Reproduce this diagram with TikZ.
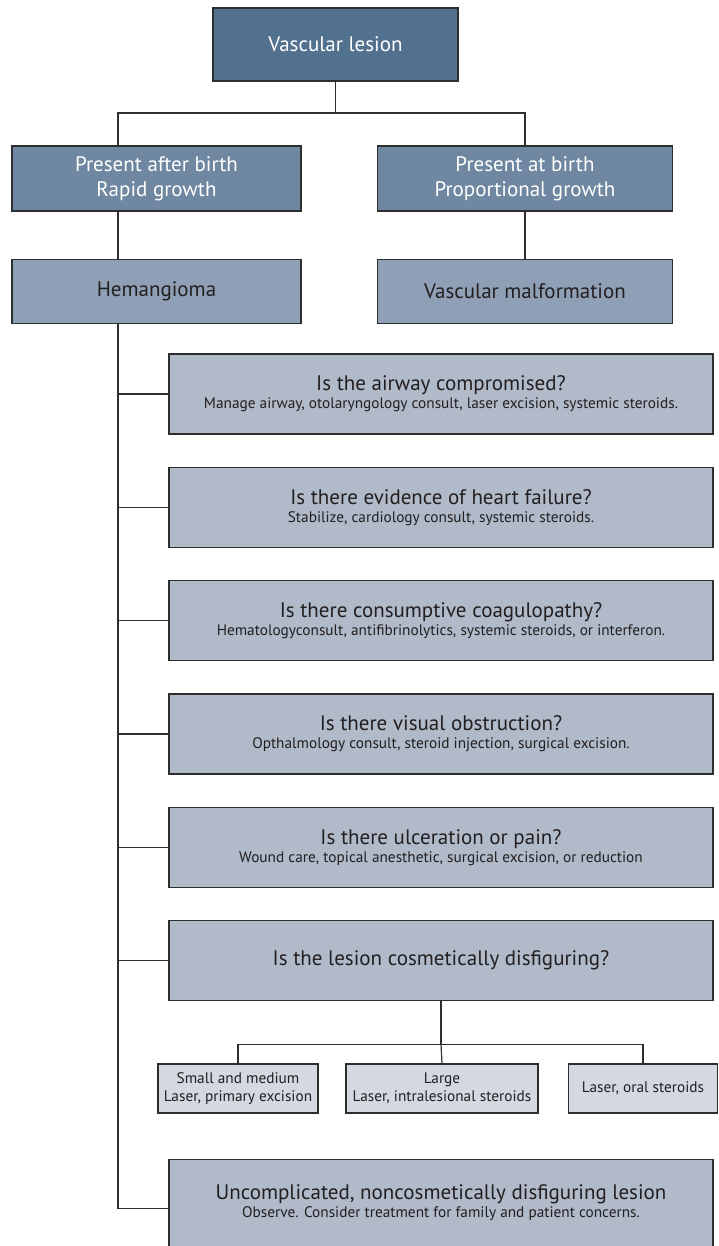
\documentclass[tikz,border=0pt]{standalone}
\usepackage{fontspec}
\setmainfont{PT Sans}
\usepackage{tikz}
\usetikzlibrary{positioning}
\definecolor{tone1}{HTML}{52718F}
\definecolor{tone2}{HTML}{6F87A0}
\definecolor{tone3}{HTML}{8F9FB5}
\definecolor{tone4}{HTML}{B0BAC9}
\definecolor{tone5}{HTML}{D3D8E1}
\definecolor{edge}{HTML}{2E2E2E}
\definecolor{ink}{HTML}{231F20}
\newcommand{\bigtxt}{\fontsize{21}{25}\selectfont}
\newcommand{\smalltxt}{\fontsize{15.3}{18}\selectfont}

\begin{document}
\begin{tikzpicture}[x=1pt,y=-1pt,
  box/.style={draw=edge,line width=1.3pt,inner sep=0pt,align=center,text=ink,font=\smalltxt},
  qbox/.style={box,fill=tone4,minimum width=544pt,minimum height=80pt},
  choice/.style={box,fill=tone5,minimum height=49pt},
  conn/.style={draw=edge,line width=1.2pt}]
\useasboundingbox (0,0) rectangle (719,1246);

\node[box,fill=tone1,text=white,font=\bigtxt,minimum width=245pt,minimum height=73pt](lesion) at (335.5,44.5){Vascular lesion};
\node[box,fill=tone2,text=white,font=\bigtxt,minimum width=289pt,minimum height=65pt](after) at (156.5,178.5){Present after birth\\Rapid growth};
\node[box,fill=tone2,text=white,font=\bigtxt,minimum width=295pt,minimum height=65pt](atbirth) at (525,178.5){Present at birth\\Proportional growth};
\node[box,fill=tone3,font=\bigtxt,minimum width=289pt,minimum height=64pt,below=47pt of after](heman){Hemangioma};
\node[box,fill=tone3,font=\bigtxt,minimum width=295pt,minimum height=64pt,below=47pt of atbirth](malf){Vascular malformation};

\node[qbox](q1) at (441,394){{\bigtxt Is the airway compromised?}\\Manage airway, otolaryngology consult, laser excision, systemic steroids.};
\node[qbox,below=32pt of q1](q2){{\bigtxt Is there evidence of heart failure?}\\Stabilize, cardiology consult, systemic steroids.};
\node[qbox,below=32pt of q2](q3){{\bigtxt Is there consumptive coagulopathy?}\\Hematologyconsult, antifibrinolytics, systemic steroids, or interferon.};
\node[qbox,below=32pt of q3](q4){{\bigtxt Is there visual obstruction?}\\Opthalmology consult, steroid injection, surgical excision.};
\node[qbox,below=32pt of q4](q5){{\bigtxt Is there ulceration or pain?}\\Wound care, topical anesthetic, surgical excision, or reduction};
\node[qbox,font=\bigtxt,below=32pt of q5](q6){Is the lesion cosmetically disfiguring?};

\node[choice,minimum width=160pt](sml) at (238,1088.5){Small and medium\\Laser, primary excision};
\node[choice,minimum width=192pt](lrg) at (442,1088.5){Large\\Laser, intralesional steroids};
\node[choice,minimum width=149pt](oral) at (643,1088.5){Laser, oral steroids};

\node[qbox,minimum height=98pt,text depth=16pt,below=158pt of q6](plain){{\bigtxt Uncomplicated, noncosmetically disfiguring lesion}\\Observe. Consider treatment for family and patient concerns.};

\coordinate (trunk) at (118,113);
\draw[conn] (lesion.south) -- (lesion.south |- trunk);
\draw[conn] (trunk |- after.north) -- (trunk) -| (atbirth.north);
\draw[conn] (trunk |- after.south) -- (trunk |- heman.north);
\draw[conn] (atbirth.south) -- (malf.north);
\draw[conn] (trunk |- heman.south) |- (plain.west);
\foreach \q in {q1,q2,q3,q4,q5,q6}
  \draw[conn] (trunk |- \q.west) -- (\q.west);
\draw[conn] (q6.south) -- ++(0,43) coordinate (fork);
\draw[conn] (sml.north) |- (fork) -| (oral.north);
\draw[conn] (fork) -- (lrg.north);
\end{tikzpicture}
\end{document}
